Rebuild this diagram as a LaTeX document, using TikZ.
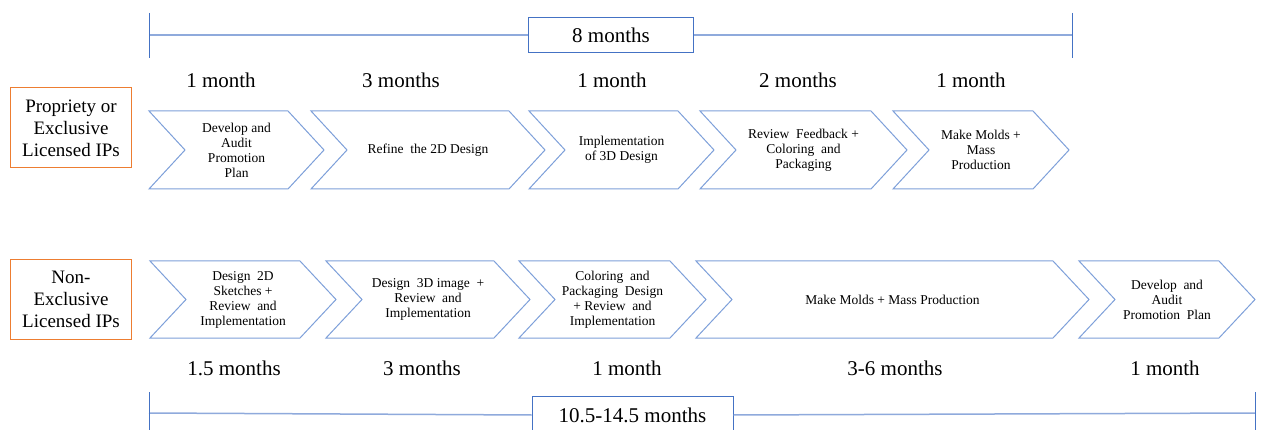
\documentclass[tikz,border=0pt]{standalone}
\usepackage{fontspec}
\setmainfont{Liberation Serif}
\definecolor{chevblue}{HTML}{7EA0DA}
\definecolor{linblue}{HTML}{8FAADC}
\definecolor{darkblue}{HTML}{4472C4}
\definecolor{boxorange}{HTML}{ED7D31}
\tikzset{
  chev/.style={draw=chevblue, line width=1pt, line join=miter},
  chevtext/.style={align=center, font=\fontsize{13.5}{15}\selectfont, inner sep=0pt},
  dur/.style={font=\fontsize{21}{24}\selectfont, inner sep=0pt},
  catbox/.style={draw=boxorange, line width=1pt, minimum width=121pt, minimum height=80pt, align=center, font=\fontsize{19}{22}\selectfont, inner sep=0pt},
  totbox/.style={draw=darkblue, line width=1pt, fill=white, font=\fontsize{21}{24}\selectfont, inner sep=0pt},
  brk/.style={draw=linblue, line width=1.5pt},
  tick/.style={draw=darkblue, line width=1pt},
}
\newcommand\chevron[6]{%
  \draw[chev] (#2,#4) -- ({#3-36},#4) -- (#3,{(#4+#5)/2}) -- ({#3-36},#5) -- (#2,#5) -- ({#2+36},{(#4+#5)/2}) -- cycle;
  \node[chevtext] (#1) at ({(#2+#3)/2},{(#4+#5)/2}) {#6};
}
\begin{document}
\begin{tikzpicture}[x=1pt,y=-1pt]
\useasboundingbox[fill=white] (0,0) rectangle (1261,430);
\clip (0,0) rectangle (1261,430);

% top bracket
\coordinate (tl1) at (149,13); \coordinate (tl2) at (149,58);
\coordinate (tr1) at (1072,13); \coordinate (tr2) at (1072,58);
\coordinate (tlm) at (149,35); \coordinate (trm) at (1072,35);
\node[totbox, minimum width=165pt, minimum height=35pt] (tot1) at (611,35) {8 months};
\draw[brk] (tlm) -- (tot1.west);
\draw[brk] (tot1.east) -- (trm);
\draw[tick] (tl1) -- (tl2);
\draw[tick] (tr1) -- (tr2);

% top durations
\node[dur] (d1) at (221,80) {1 month};
\node[dur] (d2) at (401,80) {3 months};
\node[dur] (d3) at (612,80) {1 month};
\node[dur] (d4) at (798,80) {2 months};
\node[dur] (d5) at (971,80) {1 month};

% category boxes
\node[catbox] (cat1) at (71,128) {Propriety or\\Exclusive\\Licensed IPs};
\node[catbox] (cat2) at (71,299.5) {Non-\\Exclusive\\Licensed IPs};

% top chevrons
\chevron{a1}{149}{324}{111}{189}{Develop and\\Audit\\Promotion\\Plan}
\chevron{a2}{311}{545}{111}{189}{Refine\ \ the 2D Design}
\chevron{a3}{529}{714}{111}{189}{Implementation\\of 3D Design}
\chevron{a4}{700}{907}{111}{189}{Review\ \ Feedback +\\Coloring\ \ and\\Packaging}
\chevron{a5}{893}{1069}{111}{189}{Make Molds +\\Mass\\Production}

% bottom chevrons
\chevron{b1}{150}{336}{261}{338}{Design\ \ 2D\\Sketches +\\Review\ \ and\\Implementation}
\chevron{b2}{326}{530}{261}{338}{Design\ \ 3D image\ \ +\\Review\ \ and\\Implementation}
\chevron{b3}{519}{706}{261}{338}{Coloring\ \ and\\Packaging\ \ Design\\+ Review\ \ and\\Implementation}
\chevron{b4}{696}{1089}{261}{338}{Make Molds + Mass Production}
\chevron{b5}{1079}{1255}{261}{338}{Develop\ \ and\\Audit\\Promotion\ \ Plan}

% bottom durations
\node[dur] (e1) at (234,368) {1.5 months};
\node[dur] (e2) at (422,368) {3 months};
\node[dur] (e3) at (627,368) {1 month};
\node[dur] (e4) at (895,368) {3-6 months};
\node[dur] (e5) at (1165,368) {1 month};

% bottom bracket
\coordinate (bl1) at (149,392); \coordinate (bl2) at (149,432);
\coordinate (br1) at (1255,392); \coordinate (br2) at (1255,432);
\coordinate (blm) at (149,413); \coordinate (brm) at (1255,413);
\node[totbox, minimum width=201pt, minimum height=38pt] (tot2) at (632.5,415) {10.5-14.5 months};
\draw[brk] (blm) -- (tot2.west);
\draw[brk] (tot2.east) -- (brm);
\draw[tick] (bl1) -- (bl2);
\draw[tick] (br1) -- (br2);
\end{tikzpicture}
\end{document}
